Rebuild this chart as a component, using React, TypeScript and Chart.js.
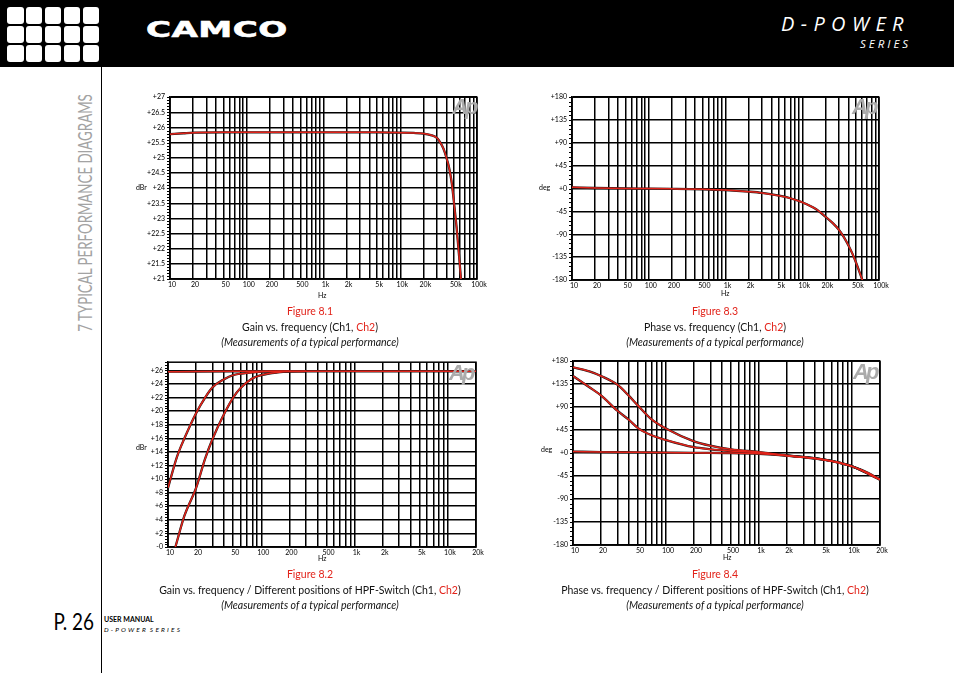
import React, { useEffect, useRef } from 'react';
import { Chart, registerables } from 'chart.js';

Chart.register(...registerables);

const RED = '#e2231a';
const CH1 = '#1a1a1a';

// ---------- axis definitions ----------
const freqLabelValues = [10, 20, 50, 100, 200, 500, 1000, 2000, 5000, 10000, 20000, 50000, 100000];
const freqLabelTexts = ['10', '20', '50', '100', '200', '500', '1k', '2k', '5k', '10k', '20k', '50k', '100k'];

const gainTicks81 = [21, 21.5, 22, 22.5, 23, 23.5, 24, 24.5, 25, 25.5, 26, 26.5, 27];
const gainTicks82 = [0, 2, 4, 6, 8, 10, 12, 14, 16, 18, 20, 22, 24, 26];
const phaseTicks = [-180, -135, -90, -45, 0, 45, 90, 135, 180];

// ---------- Figure 8.1 : gain vs frequency ----------
const fig81Freq = [10, 15, 20, 50, 100, 500, 1000, 5000, 10000, 15000, 20000, 25000, 30000, 33000, 36600, 40000, 42600, 45000, 47100, 50900, 54700, 58600, 62200];
const fig81Gain = [25.78, 25.81, 25.83, 25.84, 25.84, 25.84, 25.84, 25.84, 25.83, 25.82, 25.8, 25.75, 25.66, 25.52, 25.3, 25.0, 24.75, 24.45, 24.13, 23.36, 22.6, 21.72, 20.9];

// ---------- Figure 8.3 : phase vs frequency ----------
const fig83Freq = [10, 20, 50, 100, 200, 500, 1000, 2000, 3000, 5000, 7000, 10000, 15000, 20000, 25000, 30000, 35000, 40000, 45000, 50000, 55000, 61000];
const fig83Phase = [2.5, 1.2, 0.3, 0, -0.5, -1.5, -3, -6, -8.5, -14, -19, -27, -40, -55, -68, -81, -96, -112, -128, -145, -162, -181];

// ---------- Figure 8.2 : gain, HPF switch positions ----------
const fig82OffFreq = [10, 20, 50, 100, 200, 500, 1000, 2000, 5000, 10000, 20000];
const fig82Off = [25.8, 25.83, 25.85, 25.85, 25.85, 25.85, 25.85, 25.85, 25.85, 25.85, 25.85];
const fig82Hpf1Freq = [10, 12.5, 15, 20, 25, 30, 40, 50, 75, 100, 150, 200];
const fig82Hpf1 = [8.7, 13.3, 16.0, 19.7, 22.0, 23.5, 24.7, 25.3, 25.65, 25.8, 25.85, 25.85];
const fig82Hpf2Freq = [12, 15, 20, 25, 30, 40, 50, 60, 80, 100, 150, 200, 300];
const fig82Hpf2 = [0, 4.6, 8.7, 13.0, 15.9, 19.6, 22.0, 23.4, 24.8, 25.3, 25.7, 25.82, 25.85];

// ---------- Figure 8.4 : phase, HPF switch positions ----------
const fig84OffFreq = [10, 20, 50, 100, 200, 500, 1000, 2000, 3000, 5000, 7000, 10000, 15000, 20000];
const fig84Off = [3, 2, 1.5, 1, 0.5, 0, -1.5, -5, -8, -13, -18, -26, -39, -52];
const fig84Hpf1Freq = [10, 15, 20, 30, 40, 50, 70, 100, 200, 300, 500, 1000, 2000, 5000, 10000, 20000];
const fig84Hpf1 = [151, 129, 113, 83, 65, 49, 35, 25.5, 11.5, 7.5, 4, 0.5, -5, -13, -26, -52];
const fig84Hpf2Freq = [10, 15, 20, 30, 40, 50, 70, 100, 200, 300, 500, 1000, 2000, 5000, 10000, 20000];
const fig84Hpf2 = [168, 160, 151, 134, 112, 93, 66, 48, 23, 14.5, 7.5, 2, -4.5, -13, -26, -52];

// ---------- helpers ----------
function logGrid(min: number, max: number): number[] {
  const t: number[] = [];
  for (let d = min; d < max; d *= 10) {
    for (let k = 1; k < 10; k++) {
      const v = d * k;
      if (v <= max) t.push(v);
    }
  }
  if (t[t.length - 1] !== max) t.push(max);
  return t;
}

const fmtGain81 = (v: number) => '+' + v;
const fmtGain82 = (v: number) => (v === 0 ? '-0' : '+' + v);
const fmtPhase = (v: number) => (v >= 0 ? '+' + v : String(v));

const framePlugin = {
  id: 'frame',
  beforeDatasetsDraw(chart: any, _args: any, opts: any) {
    const { ctx, chartArea: a } = chart;
    const y = chart.scales.y;
    ctx.save();
    ctx.strokeStyle = '#000';
    ctx.lineWidth = 1.5;
    ctx.strokeRect(a.left, a.top, a.right - a.left, a.bottom - a.top);
    ctx.lineWidth = 1;
    ctx.beginPath();
    const n = Math.round((y.max - y.min) / opts.minorStep);
    for (let i = 0; i <= n; i++) {
      const v = y.min + i * opts.minorStep;
      const py = Math.round(y.getPixelForValue(v)) + 0.5;
      ctx.moveTo(a.left - 3, py);
      ctx.lineTo(a.left, py);
    }
    ctx.stroke();
    ctx.restore();
  },
};

type Curve = { x: number[]; y: number[] };

type PanelProps = {
  plotLeft: number;
  plotTop: number;
  plotW: number;
  plotH: number;
  xMax: number;
  yMin: number;
  yMax: number;
  yTicks: number[];
  yFormat: (v: number) => string;
  minorStep: number;
  curves: Curve[];
};

const Y_AXIS_W = 44;
const X_AXIS_H = 14;
const PAD_R = 14;
const PAD_T = 8;

function Panel(p: PanelProps) {
  const ref = useRef<HTMLCanvasElement | null>(null);
  const cw = Y_AXIS_W + p.plotW + PAD_R;
  const ch = PAD_T + p.plotH + X_AXIS_H;

  useEffect(() => {
    if (!ref.current) return;
    const grid = logGrid(10, p.xMax);
    const datasets: any[] = [];
    p.curves.forEach((c) => {
      const pts = c.x.map((x, i) => ({ x, y: c.y[i] }));
      datasets.push({
        data: pts,
        borderColor: CH1,
        borderWidth: 2.3,
        pointRadius: 0,
        cubicInterpolationMode: 'monotone',
        order: 2,
      });
      datasets.push({
        data: pts,
        borderColor: RED,
        borderWidth: 1.5,
        pointRadius: 0,
        cubicInterpolationMode: 'monotone',
        order: 1,
      });
    });
    const tickFont = { family: 'Lato', size: 7 };
    const chart = new Chart(ref.current, {
      type: 'line',
      data: { datasets },
      options: {
        animation: false,
        responsive: false,
        devicePixelRatio: 1,
        events: [],
        layout: { padding: { left: 0, top: PAD_T, right: PAD_R, bottom: 0 } },
        plugins: {
          legend: { display: false },
          tooltip: { enabled: false },
          frame: { minorStep: p.minorStep },
        } as any,
        scales: {
          x: {
            type: 'logarithmic',
            min: 10,
            max: p.xMax,
            afterBuildTicks: (s: any) => {
              s.ticks = grid.map((v) => ({ value: v }));
            },
            afterFit: (s: any) => {
              s.height = X_AXIS_H;
            },
            ticks: {
              autoSkip: false,
              maxRotation: 0,
              minRotation: 0,
              padding: 2,
              labelOffset: 2,
              color: '#000',
              font: tickFont,
              callback: (v: any) => {
                const i = freqLabelValues.indexOf(Number(v));
                return i >= 0 ? freqLabelTexts[i] : '';
              },
            },
            grid: { color: '#000', lineWidth: 1.5, drawTicks: false },
            border: { color: '#000', width: 1.5 },
          },
          y: {
            type: 'linear',
            min: p.yMin,
            max: p.yMax,
            afterBuildTicks: (s: any) => {
              s.ticks = p.yTicks.map((v) => ({ value: v }));
            },
            afterFit: (s: any) => {
              s.width = Y_AXIS_W;
            },
            ticks: {
              padding: 5,
              color: '#000',
              font: tickFont,
              callback: (v: any) => p.yFormat(Number(v)),
            },
            grid: { color: '#000', lineWidth: 1.5, drawTicks: false },
            border: { color: '#000', width: 1.5 },
          },
        },
      } as any,
      plugins: [framePlugin as any],
    });
    return () => chart.destroy();
  }, []);

  return (
    <canvas
      ref={ref}
      width={cw}
      height={ch}
      style={{
        position: 'absolute',
        left: p.plotLeft - Y_AXIS_W,
        top: p.plotTop - PAD_T,
        width: cw,
        height: ch,
      }}
    />
  );
}

// ---------- page text helpers ----------
const abs = (left: number, top: number, extra: React.CSSProperties = {}): React.CSSProperties => ({
  position: 'absolute',
  left,
  top,
  whiteSpace: 'nowrap',
  lineHeight: 1,
  ...extra,
});

function Small({ x, y, children }: { x: number; y: number; children: React.ReactNode }) {
  return (
    <div style={abs(x, y - 4, { fontFamily: 'Lato', fontSize: 7, color: '#000' })}>{children}</div>
  );
}

function ApLogo({ x, y }: { x: number; y: number }) {
  return (
    <div
      style={abs(x, y, {
        fontFamily: '"Liberation Sans", Arial, sans-serif',
        fontWeight: 700,
        fontStyle: 'italic',
        fontSize: 22,
        letterSpacing: -3,
        color: '#ababab',
      })}
    >
      Ap
    </div>
  );
}

function Caption({ cx, y, fig, line }: { cx: number; y: number; fig: string; line: string }) {
  const base: React.CSSProperties = {
    position: 'absolute',
    left: cx - 250,
    width: 500,
    textAlign: 'center',
    fontFamily: 'Lato',
    fontSize: 10.5,
    lineHeight: '12px',
    whiteSpace: 'nowrap',
    color: '#111',
  };
  return (
    <>
      <div style={{ ...base, top: y - 6, color: RED }}>{fig}</div>
      <div style={{ ...base, top: y + 10 }}>
        {line}
        <span style={{ color: RED }}>Ch2</span>)
      </div>
      <div style={{ ...base, top: y + 25, fontStyle: 'italic' }}>(Measurements of a typical performance)</div>
    </>
  );
}

const squareCols = [0, 1, 2, 3, 4];
const squareRows = [0, 1, 2];

export default function App() {
  return (
    <div
      style={{
        position: 'absolute',
        left: 0,
        top: 0,
        width: 954,
        height: 673,
        background: '#fff',
        overflow: 'hidden',
        fontFamily: 'Lato, sans-serif',
      }}
    >
      {/* header */}
      <div style={{ position: 'absolute', left: 0, top: 0, width: 954, height: 67, background: '#000' }} />
      {squareRows.map((r) =>
        squareCols.map((c) => (
          <div
            key={r + '-' + c}
            style={{
              position: 'absolute',
              left: 7 + c * 18.9,
              top: 7 + r * 19.1,
              width: 16.5,
              height: 17,
              borderRadius: 3,
              background: '#fff',
            }}
          />
        ))
      )}
      <div
        style={abs(146, 19, {
          fontFamily: '"DejaVu Sans", sans-serif',
          fontWeight: 700,
          fontSize: 22,
          color: '#fff',
          transform: 'scaleX(1.55)',
          transformOrigin: 'left top',
          letterSpacing: 0.3,
          WebkitTextStroke: '0.6px #fff',
        })}
      >
        CAMCO
      </div>
      <div
        style={abs(781, 14, {
          fontFamily: '"Open Sans", sans-serif',
          fontStyle: 'italic',
          fontSize: 20,
          color: '#fff',
          letterSpacing: 0.6,
        })}
      >
        D - P O W E R
      </div>
      <div
        style={abs(860, 38, {
          fontFamily: '"Open Sans", sans-serif',
          fontStyle: 'italic',
          fontSize: 11.5,
          color: '#fff',
          letterSpacing: 0,
        })}
      >
        S E R I E S
      </div>

      {/* left column */}
      <div style={{ position: 'absolute', left: 101, top: 67, width: 1.2, height: 606, background: '#000' }} />
      <div
        style={{
          position: 'absolute',
          left: 85 - 200,
          top: 213 - 10,
          width: 400,
          height: 20,
          lineHeight: '20px',
          textAlign: 'center',
          fontFamily: 'Lato',
          fontWeight: 400,
          fontSize: 19,
          color: '#a3a3a3',
          whiteSpace: 'nowrap',
          transform: 'rotate(-90deg) scaleX(0.7)',
          transformOrigin: 'center center',
        }}
      >
        7 TYPICAL PERFORMANCE DIAGRAMS
      </div>
      <div
        style={abs(0, 610, {
          width: 94,
          textAlign: 'right',
          fontFamily: 'Lato',
          fontSize: 23,
          color: '#000',
          transform: 'scaleX(0.82)',
          transformOrigin: 'right top',
        })}
      >
        P. 26
      </div>
      <div style={abs(104, 616, { fontFamily: 'Lato', fontWeight: 700, fontSize: 7, color: '#000' })}>USER MANUAL</div>
      <div
        style={abs(104, 627, {
          fontFamily: 'Lato',
          fontStyle: 'italic',
          fontSize: 6.5,
          color: '#000',
          letterSpacing: 0.35,
        })}
      >
        D - P O W E R &nbsp;S E R I E S
      </div>

      {/* charts */}
      <Panel
        plotLeft={170}
        plotTop={96}
        plotW={307}
        plotH={183}
        xMax={100000}
        yMin={21}
        yMax={27}
        yTicks={gainTicks81}
        yFormat={fmtGain81}
        minorStep={0.1}
        curves={[{ x: fig81Freq, y: fig81Gain }]}
      />
      <Panel
        plotLeft={572}
        plotTop={96}
        plotW={307}
        plotH={184}
        xMax={100000}
        yMin={-180}
        yMax={180}
        yTicks={phaseTicks}
        yFormat={fmtPhase}
        minorStep={9}
        curves={[{ x: fig83Freq, y: fig83Phase }]}
      />
      <Panel
        plotLeft={168}
        plotTop={361}
        plotW={308}
        plotH={186}
        xMax={20000}
        yMin={0}
        yMax={27.2}
        yTicks={gainTicks82}
        yFormat={fmtGain82}
        minorStep={0.4}
        curves={[
          { x: fig82OffFreq, y: fig82Off },
          { x: fig82Hpf1Freq, y: fig82Hpf1 },
          { x: fig82Hpf2Freq, y: fig82Hpf2 },
        ]}
      />
      <Panel
        plotLeft={573}
        plotTop={360}
        plotW={307}
        plotH={185}
        xMax={20000}
        yMin={-180}
        yMax={180}
        yTicks={phaseTicks}
        yFormat={fmtPhase}
        minorStep={9}
        curves={[
          { x: fig84OffFreq, y: fig84Off },
          { x: fig84Hpf1Freq, y: fig84Hpf1 },
          { x: fig84Hpf2Freq, y: fig84Hpf2 },
        ]}
      />

      {/* axis titles */}
      <Small x={136} y={188}>dBr</Small>
      <Small x={318} y={296}>Hz</Small>
      <Small x={539} y={188}>deg</Small>
      <Small x={721} y={294}>Hz</Small>
      <Small x={136} y={448}>dBr</Small>
      <Small x={318} y={559}>Hz</Small>
      <Small x={541} y={450}>deg</Small>
      <Small x={723} y={558}>Hz</Small>

      {/* Ap marks */}
      <ApLogo x={452} y={96} />
      <ApLogo x={852} y={96} />
      <ApLogo x={449} y={362} />
      <ApLogo x={853} y={361} />

      {/* captions */}
      <Caption cx={310} y={311} fig="Figure 8.1" line="Gain vs. frequency (Ch1, " />
      <Caption cx={715} y={311} fig="Figure 8.3" line="Phase vs. frequency (Ch1, " />
      <Caption
        cx={310}
        y={574}
        fig="Figure 8.2"
        line="Gain vs. frequency / Different positions of HPF-Switch (Ch1, "
      />
      <Caption
        cx={715}
        y={574}
        fig="Figure 8.4"
        line="Phase vs. frequency / Different positions of HPF-Switch (Ch1, "
      />
    </div>
  );
}
